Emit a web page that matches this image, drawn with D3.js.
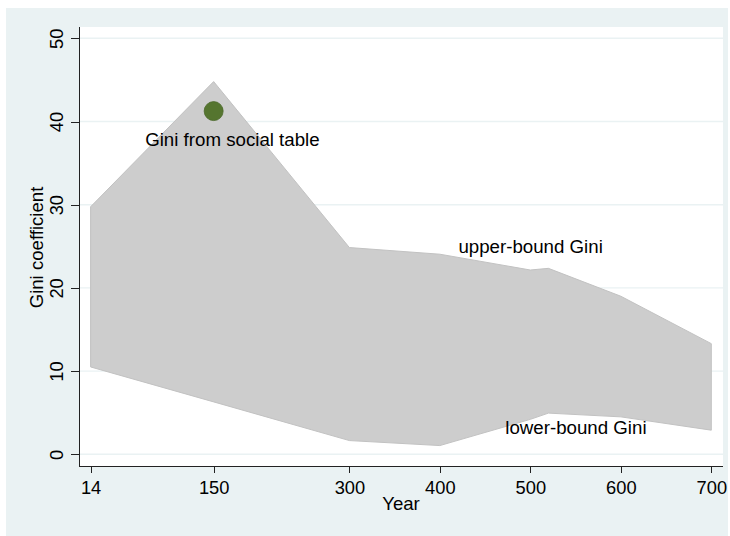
<!DOCTYPE html>
<html lang="en">
<head>
  <meta charset="utf-8">
  <script src="https://d3js.org/d3.v7.min.js"></script>
  <title>Gini coefficient bounds</title>
  <style>
    body { margin: 0; background: #fff; }
    text { font-family: "Liberation Sans", Arial, sans-serif; fill: #000; }
    .axis path, .axis line { stroke: #222; shape-rendering: crispEdges; }
    .axis text { font-size: 18.3px; }
  </style>
</head>
<body>
<svg id="chart" width="730" height="536"></svg>
<script>
// data
var years = [14, 150, 300, 400, 500, 520, 600, 700];
var upperGini = [29.75, 44.8, 24.85, 24.05, 22.15, 22.35, 19.0, 13.3];
var lowerGini = [10.5, 6.3, 1.65, 1.05, 4.2, 4.95, 4.5, 2.9];

var socialYear = [150];
var socialGini = [41.25];

var yTicks = [0, 10, 20, 30, 40, 50];
var xTicks = [14, 150, 300, 400, 500, 600, 700];

// text labels placed in data units (x, y of the text start/baseline)
var labelText = ["Gini from social table", "upper-bound Gini", "lower-bound Gini"];
var labelX = [74.3, 420.5, 472.3];
var labelY = [37.1, 24.15, 2.5];

var svg = d3.select("#chart");

// outer (graph region) and inner (plot region)
var outer = {left: 6, top: 8, right: 728, bottom: 536};
var plot = {left: 79, top: 27, right: 723, bottom: 466};

var x = d3.scaleLinear().domain([14, 700]).range([90.6, 711.3]);
var y = d3.scaleLinear().domain([0, 50]).range([454.3, 38.3]);

svg.append("rect")
  .attr("x", outer.left).attr("y", outer.top)
  .attr("width", outer.right - outer.left).attr("height", outer.bottom - outer.top)
  .attr("fill", "#eaf2f3");

svg.append("rect")
  .attr("x", plot.left).attr("y", plot.top)
  .attr("width", plot.right - plot.left).attr("height", plot.bottom - plot.top)
  .attr("fill", "#fff");

// gridlines
svg.append("g").selectAll("line")
  .data(yTicks)
  .enter().append("line")
    .attr("x1", plot.left).attr("x2", plot.right)
    .attr("y1", function(d) { return y(d); })
    .attr("y2", function(d) { return y(d); })
    .attr("stroke", "#eaf2f3")
    .attr("stroke-width", 1.4);

// range area between lower and upper bound
var rows = years.map(function(yr, i) { return {year: yr, lo: lowerGini[i], hi: upperGini[i]}; });

var area = d3.area()
  .x(function(d) { return x(d.year); })
  .y0(function(d) { return y(d.lo); })
  .y1(function(d) { return y(d.hi); });

svg.append("path")
  .datum(rows)
  .attr("d", area)
  .attr("fill", "#cdcdcd")
  .attr("stroke", "#c2c2c2")
  .attr("stroke-width", 1);

// social table point
svg.append("g").selectAll("circle")
  .data(socialYear)
  .enter().append("circle")
    .attr("cx", function(d) { return x(d); })
    .attr("cy", function(d, i) { return y(socialGini[i]); })
    .attr("r", 9.5)
    .attr("fill", "#55752f")
    .attr("stroke", "#4a6829")
    .attr("stroke-width", 0.8);

// labels
svg.append("g").selectAll("text")
  .data(labelText)
  .enter().append("text")
    .attr("x", function(d, i) { return x(labelX[i]); })
    .attr("y", function(d, i) { return y(labelY[i]); })
    .style("font-size", "18.7px")
    .text(function(d) { return d; });

// y axis
var yAxis = svg.append("g")
  .attr("class", "axis")
  .attr("transform", "translate(" + plot.left + ",0)")
  .call(d3.axisLeft(y).tickValues(yTicks).tickSize(8).tickSizeOuter(0));

yAxis.select(".domain")
  .attr("d", "M0," + plot.top + "V" + plot.bottom);

yAxis.selectAll(".tick text")
  .attr("x", 0).attr("dy", 0)
  .attr("text-anchor", "middle")
  .attr("transform", "translate(-16,0) rotate(-90)");

// x axis
var xAxis = svg.append("g")
  .attr("class", "axis")
  .attr("transform", "translate(0," + plot.bottom + ")")
  .call(d3.axisBottom(x).tickValues(xTicks).tickSize(7).tickSizeOuter(0).tickFormat(d3.format("d")));

xAxis.select(".domain")
  .attr("d", "M" + plot.left + ",0H" + plot.right);

xAxis.selectAll(".tick text")
  .attr("y", 27.5).attr("dy", 0);

// axis titles
svg.append("text")
  .attr("transform", "translate(43," + ((plot.top + plot.bottom) / 2 + 1) + ") rotate(-90)")
  .attr("text-anchor", "middle")
  .style("font-size", "18.6px")
  .text("Gini coefficient");

svg.append("text")
  .attr("x", (plot.left + plot.right) / 2)
  .attr("y", 510)
  .attr("text-anchor", "middle")
  .style("font-size", "18.6px")
  .text("Year");
</script>
</body>
</html>
